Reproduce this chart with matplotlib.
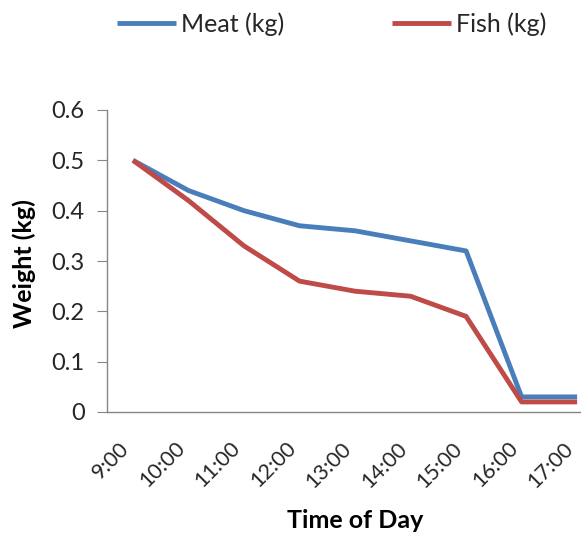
import matplotlib
matplotlib.use("Agg")
import matplotlib.pyplot as plt
from matplotlib.transforms import ScaledTranslation

times = ["9:00", "10:00", "11:00", "12:00", "13:00", "14:00", "15:00", "16:00", "17:00"]
meat = [0.50, 0.44, 0.40, 0.37, 0.36, 0.34, 0.32, 0.03, 0.03]
fish = [0.50, 0.42, 0.33, 0.26, 0.24, 0.23, 0.19, 0.02, 0.02]
y_ticks = [0, 0.1, 0.2, 0.3, 0.4, 0.5, 0.6]
y_labels = ["0", "0.1", "0.2", "0.3", "0.4", "0.5", "0.6"]

plt.rcParams['font.family'] = ['Lato', 'DejaVu Sans']
TXT = "#262626"

fig = plt.figure(figsize=(5.81, 5.33), dpi=100)
ax = fig.add_axes([107/581, 1-412/533, 1-107/581, 302/533])

x = list(range(len(times)))
ax.plot(x, meat, color="#4A7EBB", lw=3.5, label="Meat (kg)", solid_capstyle='butt')
ax.plot(x, fish, color="#BE4B48", lw=3.5, label="Fish (kg)", solid_capstyle='butt')

ax.set_xlim(-0.468, 8.07)
ax.set_ylim(0, 0.6)
ax.set_yticks(y_ticks)
ax.set_yticklabels(y_labels)
ax.set_xticks(x)
ax.set_xticklabels([])
lab_tr = ax.get_xaxis_transform() + ScaledTranslation(-5/72, -24/72, fig.dpi_scale_trans)
for xi, t in zip(x, times):
    ax.text(xi, 0, t, transform=lab_tr, rotation=45, ha='right', va='center',
            rotation_mode='anchor', fontsize=15.5, color=TXT)

for s in ["top", "right"]:
    ax.spines[s].set_visible(False)
for s in ["left", "bottom"]:
    ax.spines[s].set_color("#868686")
    ax.spines[s].set_linewidth(1.0)
ax.tick_params(axis='y', length=7.2, color="#868686", labelsize=17, pad=9, labelcolor=TXT)
ax.tick_params(axis='x', length=0)

ax.set_ylabel("Weight (kg)", fontsize=18, fontweight='bold', va='center', ha='center', color="black")
ax.yaxis.set_label_coords(-(107-24)/474, (412-264)/302)
ax.set_xlabel("Time of Day", fontsize=18, fontweight='bold', va='center', ha='center', color="black")
ax.xaxis.set_label_coords((355-107)/474, -(521-412)/302)

fig.legend(loc='center', bbox_to_anchor=(332/581, 1-24/533), ncol=2, frameon=False,
           fontsize=18, handlelength=2.36, handletextpad=0.2, columnspacing=4.3,
           labelcolor=TXT)

fig.savefig("out.png", dpi=100)
